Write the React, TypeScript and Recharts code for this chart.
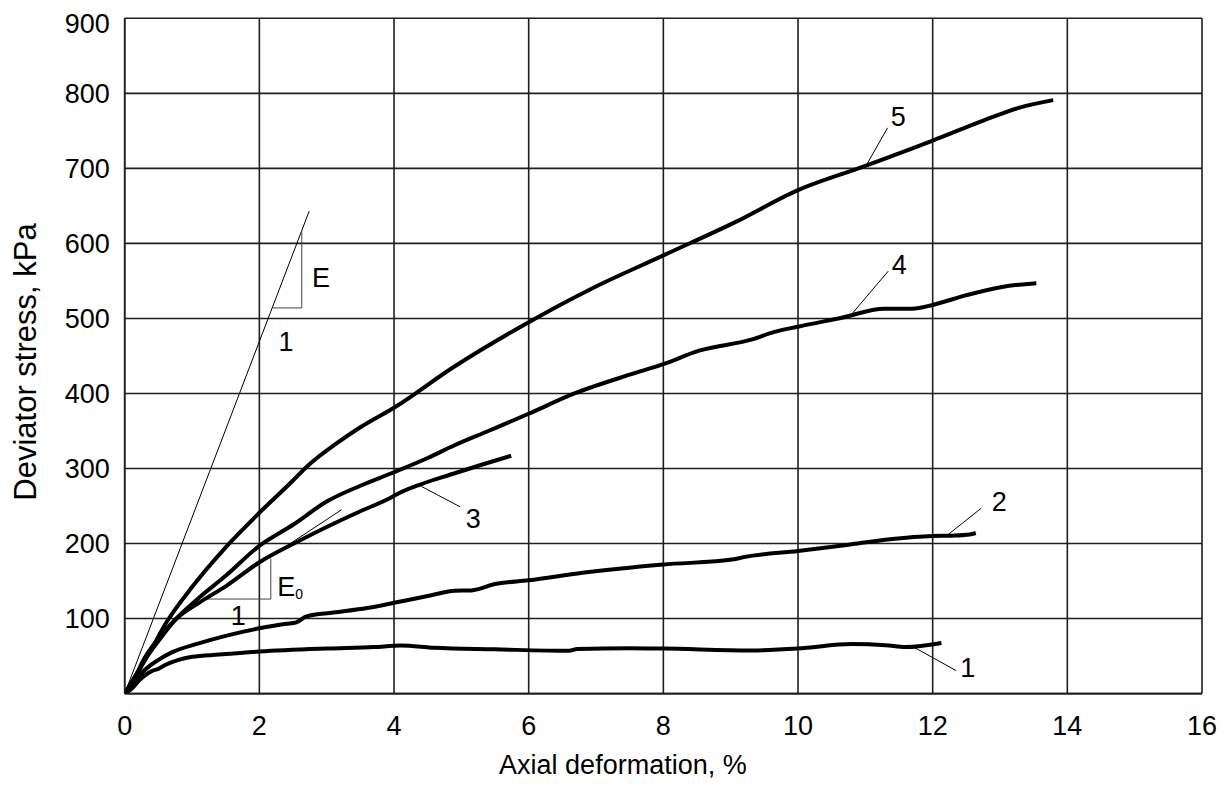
import React from 'react';
import { LineChart, Line, XAxis, YAxis, CartesianGrid, ReferenceLine, ReferenceDot } from 'recharts';

// ---- axis ticks ----
const xTicks = [0, 2, 4, 6, 8, 10, 12, 14, 16];
const yTicks = [100, 200, 300, 400, 500, 600, 700, 800, 900];

// ---- series: [axial deformation %, deviator stress kPa] ----
const curve1: [number, number][] = [
  [0, 0], [0.1, 6], [0.22, 18], [0.4, 30], [0.5, 33], [0.6, 38], [0.8, 45], [1.0, 49], [1.4, 52],
  [2, 56], [3, 60], [3.7, 62], [4.1, 64], [4.6, 61], [5.5, 59], [6.6, 57], [6.72, 59.5], [7.5, 60.5],
  [8, 60], [9.3, 57.5], [10, 60], [10.8, 66], [11.3, 64.5], [11.6, 62], [12.13, 67.5],
];
const curve2: [number, number][] = [
  [0, 0], [0.1, 8], [0.25, 27], [0.5, 45], [0.7, 55], [1.1, 67], [1.5, 77], [2, 87], [2.4, 93],
  [2.55, 95], [2.7, 103], [3.1, 108], [3.6, 114], [4, 121], [4.5, 130], [4.9, 137], [5.15, 137.5],
  [5.5, 146], [6, 151], [6.8, 161], [8, 172], [9.05, 179], [9.2, 182], [10, 190], [10.8, 199],
  [11.4, 206], [12, 210], [12.3, 210.5], [12.55, 212], [12.64, 214],
];
const curve3: [number, number][] = [
  [0, 0], [0.1, 12], [0.3, 45], [0.5, 70], [0.77, 100], [1.12, 122], [1.5, 143], [2, 175], [2.6, 204],
  [3, 222], [3.5, 243], [3.95, 261], [4.05, 266], [4.4, 279], [4.88, 293], [5.3, 305], [5.74, 317],
];
const curve4: [number, number][] = [
  [0, 0], [0.1, 13], [0.3, 48], [0.6, 84], [1.12, 129], [1.5, 157], [2, 197], [2.5, 225], [3, 256],
  [3.5, 277], [4, 295], [4.5, 314], [4.9, 331], [5.4, 350], [6, 373], [6.68, 400], [7.5, 425],
  [8, 439], [8.53, 457], [9.32, 472], [9.65, 482], [10, 489], [10.65, 501], [11.28, 513],
  [11.7, 513], [12, 518], [12.5, 531], [13.03, 542], [13.54, 547],
];
const curve5: [number, number][] = [
  [0, 0], [0.1, 15], [0.37, 55], [0.62, 95], [1.0, 142], [1.5, 195], [2, 241], [2.5, 284],
  [2.7, 302], [3.14, 333], [3.5, 355], [4, 381], [4.88, 435], [6, 495], [6.94, 540], [8, 584],
  [9.06, 628], [10, 671], [10.96, 702], [12, 737], [12.76, 764], [13.29, 781], [13.79, 791],
];

// ---- thin annotation segments: [x1, y1, x2, y2] ----
const modulusLines: [number, number, number, number][] = [
  [0, 0, 2.74, 643],        // E tangent
  [2.2, 514, 2.63, 514],    // E triangle base
  [2.63, 514, 2.63, 617],   // E triangle side
  [0.72, 97, 3.22, 245],    // E0 secant
  [1.22, 126, 2.17, 126],   // E0 triangle base
  [2.17, 126, 2.17, 180],   // E0 triangle side
];
const leaderLines: [number, number, number, number][] = [
  [11.02, 705, 11.33, 754], // 5
  [10.8, 506, 11.34, 563],  // 4
  [4.41, 276, 4.98, 249],   // 3
  [12.23, 212, 12.72, 247], // 2
  [11.71, 62.4, 12.35, 30.5], // 1
];
// ---- annotation texts: [text, x, y] ----
const labelTexts: [string, number, number][] = [
  ['5', 11.49, 769],
  ['4', 11.505, 571],
  ['3', 5.176, 232.7],
  ['2', 12.99, 256],
  ['1', 12.52, 34],
  ['E', 2.915, 554.5],
  ['1', 2.395, 469],
  ['1', 1.687, 103.6],
];
const e0Label: [string, string, number, number] = ['E', '0', 2.266, 142.3];

const seriesList = [curve1, curve2, curve3, curve4, curve5];
const FONT = '"Liberation Sans", Arial, sans-serif';

export default function App() {
  const seriesData = seriesList.map((c) => c.map(([x, y]) => ({ x, y })));
  return (
    <div style={{ width: 1216, height: 779, fontFamily: FONT }}>
      <LineChart
        width={1216}
        height={779}
        margin={{ top: 10.3, right: 22, left: 0, bottom: 0 }}
      >
        <CartesianGrid stroke="#1e1e1e" strokeWidth={1.6} />
        <XAxis
          type="number"
          dataKey="x"
          domain={[0, 16]}
          ticks={xTicks}
          allowDataOverflow
          height={93.4}
          tickLine={false}
          tickSize={0}
          tickMargin={22}
          axisLine={{ stroke: '#1e1e1e', strokeWidth: 1.6 }}
          tick={{ fill: '#000', fontSize: 27, fontFamily: FONT }}
          label={(props: any) => (
            <text x={614.9} y={766} textAnchor="middle" fontSize={27} fontFamily={FONT} fill="#000">
              Axial deformation, %
            </text>
          )}
        />
        <YAxis
          type="number"
          dataKey="y"
          domain={[0, 900]}
          ticks={yTicks}
          allowDataOverflow
          width={116.7}
          tickLine={false}
          tickSize={0}
          tickMargin={15}
          axisLine={{ stroke: '#1e1e1e', strokeWidth: 1.6 }}
          tick={{ fill: '#000', fontSize: 27, fontFamily: FONT }}
          label={(props: any) => (
            <text
              x={17}
              y={354}
              transform="rotate(-90 17 354)"
              textAnchor="middle"
              dominantBaseline="central"
              fontSize={31}
              fontFamily={FONT}
              fill="#000"
            >
              Deviator stress, kPa
            </text>
          )}
        />
        {modulusLines.map(([x1, y1, x2, y2], i) => (
          <ReferenceLine
            key={'m' + i}
            segment={[{ x: x1, y: y1 }, { x: x2, y: y2 }]}
            stroke={i === 0 || i === 3 ? '#000' : '#444'}
            strokeWidth={1}
            ifOverflow="visible"
          />
        ))}
        {leaderLines.map(([x1, y1, x2, y2], i) => (
          <ReferenceLine
            key={'l' + i}
            segment={[{ x: x1, y: y1 }, { x: x2, y: y2 }]}
            stroke="#000"
            strokeWidth={1}
            ifOverflow="visible"
          />
        ))}
        {seriesData.map((d, i) => (
          <Line
            key={'s' + i}
            data={d}
            dataKey="y"
            type="monotone"
            stroke="#000"
            strokeWidth={4}
            dot={false}
            activeDot={false}
            isAnimationActive={false}
          />
        ))}
        {labelTexts.map(([t, x, y], i) => (
          <ReferenceDot
            key={'t' + i}
            x={x}
            y={y}
            r={0}
            ifOverflow="visible"
            shape={(p: any) => (
              <text
                x={p.cx}
                y={p.cy}
                textAnchor="middle"
                dominantBaseline="central"
                fontSize={27}
                fontFamily={FONT}
                fill="#000"
              >
                {t}
              </text>
            )}
          />
        ))}
        <ReferenceDot
          x={e0Label[2]}
          y={e0Label[3]}
          r={0}
          ifOverflow="visible"
          shape={(p: any) => (
            <text
              x={p.cx}
              y={p.cy}
              textAnchor="start"
              dominantBaseline="central"
              fontSize={27}
              fontFamily={FONT}
              fill="#000"
            >
              {e0Label[0]}
              <tspan fontSize={14} dy={7}>{e0Label[1]}</tspan>
            </text>
          )}
        />
      </LineChart>
    </div>
  );
}
